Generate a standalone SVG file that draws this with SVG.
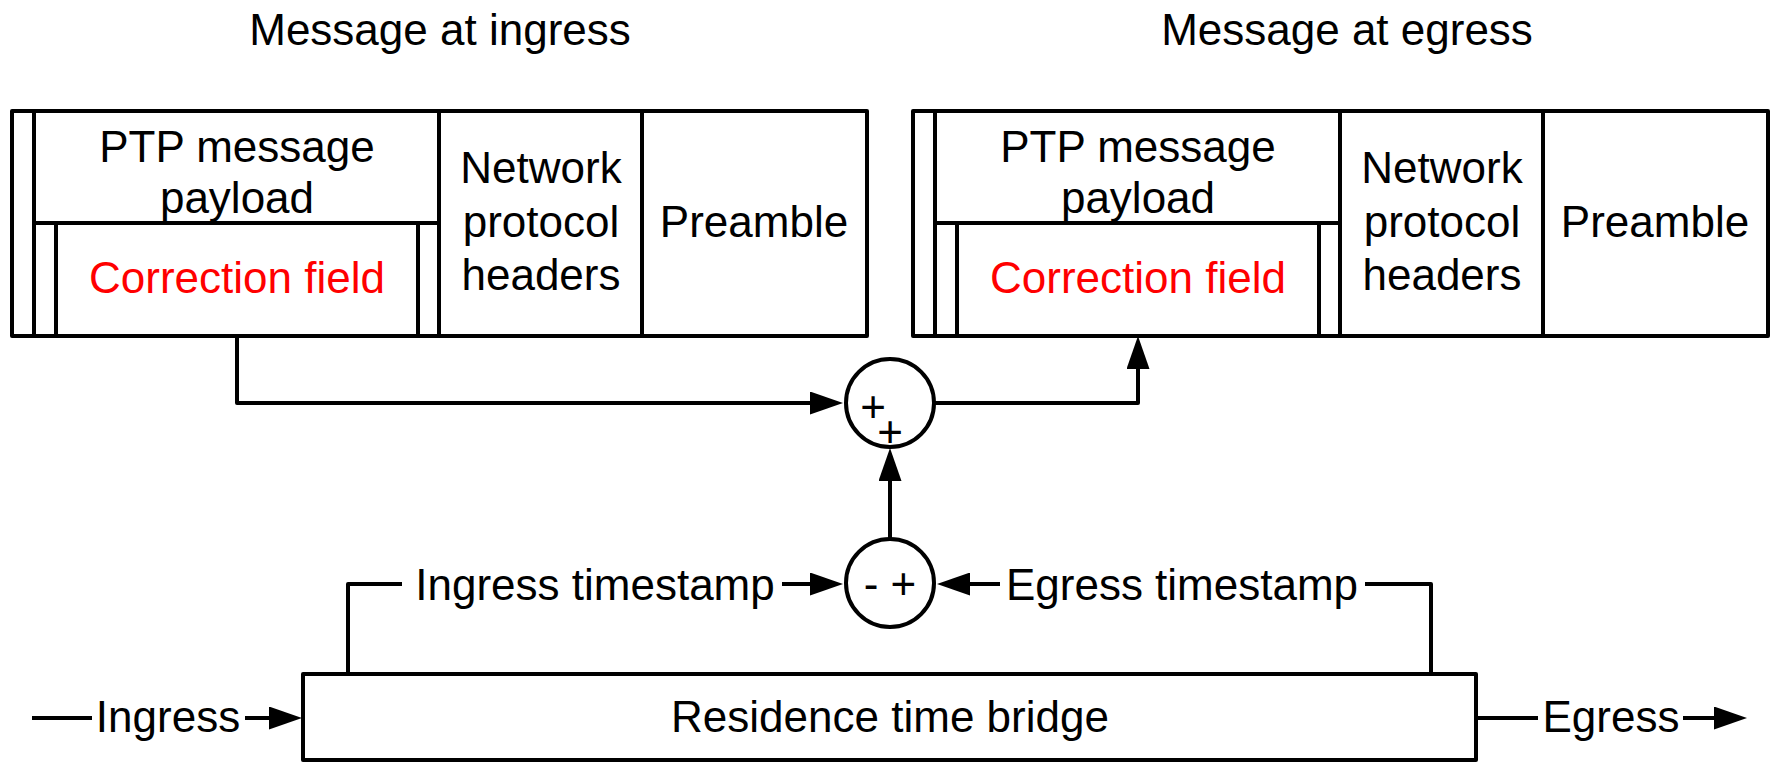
<svg xmlns="http://www.w3.org/2000/svg" width="1771" height="762" viewBox="0 0 1771 762">
  <style>
    .ln { fill: none; stroke: #000; stroke-width: 4; stroke-linejoin: round; }
    .box { fill: #fff; stroke: #000; stroke-width: 4; stroke-linejoin: round; }
    .t { font-family: "Liberation Sans", Arial, sans-serif; font-size: 44px; fill: #000; text-anchor: middle; }
    .red { fill: #ff0000; }
    .arr { marker-end: url(#head); }
  </style>
  <defs>
    <marker id="head" viewBox="0 0 33 23" markerUnits="userSpaceOnUse" markerWidth="33" markerHeight="23" refX="23" refY="11.5" orient="auto">
      <path d="M0,0 L33,11.5 L0,23 Z" fill="#000"/>
    </marker>
  </defs>

  <rect width="1771" height="762" fill="#fff"/>

  <!-- titles -->
  <text class="t" x="440" y="45">Message at ingress</text>
  <text class="t" x="1347" y="45">Message at egress</text>

  <!-- message frame as received -->
  <g id="msg-ingress">
    <rect class="box" x="12" y="111" width="855" height="225"/>
    <path class="ln" d="M34,111 V336 M34,223 H439 M56,223 V336 M418,223 V336 M439,111 V336 M642,111 V336"/>
    <text class="t" x="237" y="162">PTP message</text>
    <text class="t" x="237" y="213">payload</text>
    <text class="t red" x="237" y="293">Correction field</text>
    <text class="t" x="541" y="183">Network</text>
    <text class="t" x="541" y="237">protocol</text>
    <text class="t" x="541" y="290">headers</text>
    <text class="t" x="754" y="237">Preamble</text>
  </g>

  <!-- message frame as transmitted -->
  <g id="msg-egress" transform="translate(901,0)">
    <rect class="box" x="12" y="111" width="855" height="225"/>
    <path class="ln" d="M34,111 V336 M34,223 H439 M56,223 V336 M418,223 V336 M439,111 V336 M642,111 V336"/>
    <text class="t" x="237" y="162">PTP message</text>
    <text class="t" x="237" y="213">payload</text>
    <text class="t red" x="237" y="293">Correction field</text>
    <text class="t" x="541" y="183">Network</text>
    <text class="t" x="541" y="237">protocol</text>
    <text class="t" x="541" y="290">headers</text>
    <text class="t" x="754" y="237">Preamble</text>
  </g>

  <!-- adder -->
  <g id="sum">
    <circle class="box" cx="890" cy="403" r="44"/>
    <text class="t" x="873" y="422">+<tspan x="890" y="447">+</tspan></text>
  </g>

  <!-- subtractor -->
  <g id="diff">
    <circle class="box" cx="890" cy="583" r="44"/>
    <text class="t" x="890" y="599">- +</text>
  </g>

  <!-- bridge -->
  <g id="bridge">
    <rect class="box" x="303" y="674" width="1173" height="86"/>
    <text class="t" x="890" y="732">Residence time bridge</text>
  </g>

  <!-- connectors -->
  <g id="connectors">
    <path class="ln arr" d="M237,336 V403 H833"/>
    <path class="ln arr" d="M935,403 H1138 V346"/>
    <path class="ln arr" d="M890,538 V458"/>

    <path class="ln" d="M348,674 V584 H402"/>
    <path class="ln arr" d="M782,584 H833"/>
    <text class="t" x="595" y="600">Ingress timestamp</text>

    <path class="ln" d="M1431,676 V584 H1365"/>
    <path class="ln arr" d="M1000,584 H947"/>
    <text class="t" x="1182" y="600">Egress timestamp</text>

    <path class="ln" d="M32,718 H92"/>
    <path class="ln arr" d="M245,718 H292"/>
    <text class="t" x="168" y="732">Ingress</text>

    <path class="ln" d="M1476,718 H1538"/>
    <path class="ln arr" d="M1683,718 H1737"/>
    <text class="t" x="1611" y="732">Egress</text>
  </g>
</svg>
